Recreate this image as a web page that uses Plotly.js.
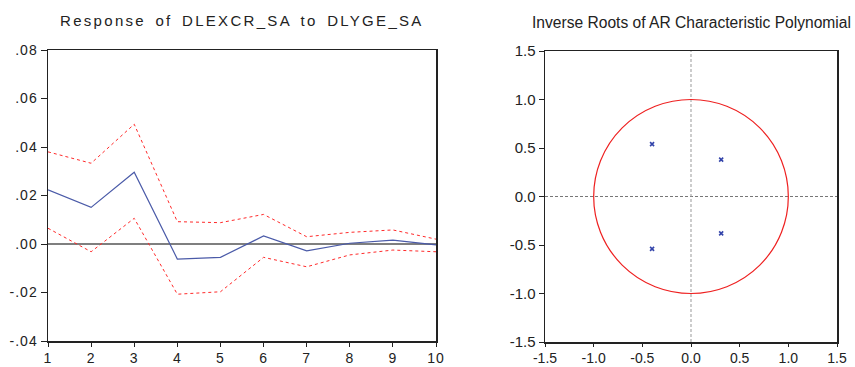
<!DOCTYPE html>
<html><head><meta charset="utf-8">
<script src="https://cdn.plot.ly/plotly-3.0.1.min.js"></script>
<style>html,body{margin:0;padding:0;background:#fff;}
.xtick text, .ytick text { letter-spacing: 1px; }
.x2tick text, .y2tick text { letter-spacing: 0px; }
</style>
</head><body>
<div id="chart" style="width:855px;height:367px;"></div>
<script>
// Impulse response data
const periods = [1,2,3,4,5,6,7,8,9,10];
const response = [0.0223, 0.0151, 0.0296, -0.0062, -0.0055, 0.0033, -0.0028, 0.0003, 0.0016, -0.0004];
const upperBand = [0.0380, 0.0333, 0.0494, 0.0092, 0.0088, 0.0122, 0.0030, 0.0048, 0.0058, 0.0020];
const lowerBand = [0.0065, -0.0032, 0.0106, -0.0207, -0.0197, -0.0055, -0.0094, -0.0045, -0.0025, -0.0032];
const leftYTickVals = [0.08, 0.06, 0.04, 0.02, 0.00, -0.02, -0.04];
const leftYTickText = ['.08', '.06', '.04', '.02', '.00', '-.02', '-.04'];
// Inverse roots of AR characteristic polynomial
const rootsReal = [-0.40, -0.40, 0.31, 0.31];
const rootsImag = [0.54, -0.54, 0.38, -0.38];
const rightTicks = [-1.5, -1.0, -0.5, 0.0, 0.5, 1.0, 1.5];
const rightTickText = ['-1.5', '-1.0', '-0.5', '0.0', '0.5', '1.0', '1.5'];
const leftTitle = 'Response of DLEXCR_SA to DLYGE_SA';
const rightTitle = 'Inverse Roots of AR Characteristic Polynomial';

const fontFam = 'Liberation Sans, Arial, sans-serif';
const tickFontL = {family: fontFam, size: 14, color: '#222'};
const tickFontR = {family: fontFam, size: 15, color: '#222'};

const traces = [
  {x: periods, y: upperBand, xaxis: 'x', yaxis: 'y', mode: 'lines', line: {color: '#ff2a2a', width: 1, dash: '3px,3px'}, hoverinfo: 'none'},
  {x: periods, y: lowerBand, xaxis: 'x', yaxis: 'y', mode: 'lines', line: {color: '#ff2a2a', width: 1, dash: '3px,3px'}, hoverinfo: 'none'},
  {x: periods, y: response, xaxis: 'x', yaxis: 'y', mode: 'lines', line: {color: '#4a5aa8', width: 1.2}, hoverinfo: 'none'},
  {x: rootsReal, y: rootsImag, xaxis: 'x2', yaxis: 'y2', mode: 'markers', marker: {symbol: 'x-thin', size: 4, color: '#3344aa', line: {width: 1.6, color: '#3344aa'}}, hoverinfo: 'none'}
];

const axisCommon = {
  showline: true, mirror: true, linecolor: '#222', linewidth: 1.5,
  ticks: 'outside', ticklen: 5, tickcolor: '#222', tickwidth: 1,
  showgrid: false, zeroline: false
};

const layout = {
  width: 855, height: 367,
  margin: {l: 0, r: 0, t: 0, b: 0},
  paper_bgcolor: '#fff', plot_bgcolor: '#fff',
  showlegend: false,
  xaxis: Object.assign({}, axisCommon, {domain: [48/855, 436/855], range: [1, 10], tickvals: periods, ticktext: periods.map(String), anchor: 'y', tickfont: tickFontL, ticklen: 4}),
  yaxis: Object.assign({}, axisCommon, {domain: [1-341/367, 1-50/367], range: [-0.04, 0.08], tickvals: leftYTickVals, ticktext: leftYTickText, anchor: 'x', tickfont: tickFontL, ticklen: 6}),
  xaxis2: Object.assign({}, axisCommon, {domain: [545/855, 837/855], range: [-1.5, 1.5], tickvals: rightTicks, ticktext: rightTickText, anchor: 'y2', tickfont: {family: fontFam, size: 14, color: '#222'}, ticklen: 3}),
  yaxis2: Object.assign({}, axisCommon, {domain: [1-342/367, 1-51/367], range: [-1.5, 1.5], tickvals: rightTicks, ticktext: rightTickText, anchor: 'x2', tickfont: tickFontR}),
  shapes: [
    {type: 'line', xref: 'x', yref: 'y', x0: 1, x1: 10, y0: 0, y1: 0, line: {color: '#000', width: 1.2}, layer: 'below'},
    {type: 'line', xref: 'x2', yref: 'y2', x0: -1.5, x1: 1.5, y0: 0, y1: 0, line: {color: '#777', width: 1, dash: '3px,2px'}, layer: 'below'},
    {type: 'line', xref: 'x2', yref: 'y2', x0: 0, x1: 0, y0: -1.5, y1: 1.5, line: {color: '#999', width: 1, dash: '3px,2px'}, layer: 'below'},
    {type: 'circle', xref: 'x2', yref: 'y2', x0: -1, x1: 1, y0: -1, y1: 1, line: {color: '#ee2020', width: 1.2}}
  ],
  annotations: [
    {text: leftTitle, xref: 'paper', yref: 'paper', x: 242/855, y: 1-20/367, xanchor: 'center', yanchor: 'middle', showarrow: false, font: {family: fontFam, size: 15, color: '#222'}},
    {text: rightTitle, xref: 'paper', yref: 'paper', x: 691/855, y: 1-22/367, xanchor: 'center', yanchor: 'middle', showarrow: false, font: {family: fontFam, size: 15.6, color: '#222'}}
  ]
};

Plotly.newPlot('chart', traces, layout, {staticPlot: true, displayModeBar: false}).then(function(){
  const anns = document.querySelectorAll('.annotation-text');
  if (anns[0]) { anns[0].style.letterSpacing = '2.3px'; anns[0].style.wordSpacing = '3px'; }
});
</script>
</body></html>
